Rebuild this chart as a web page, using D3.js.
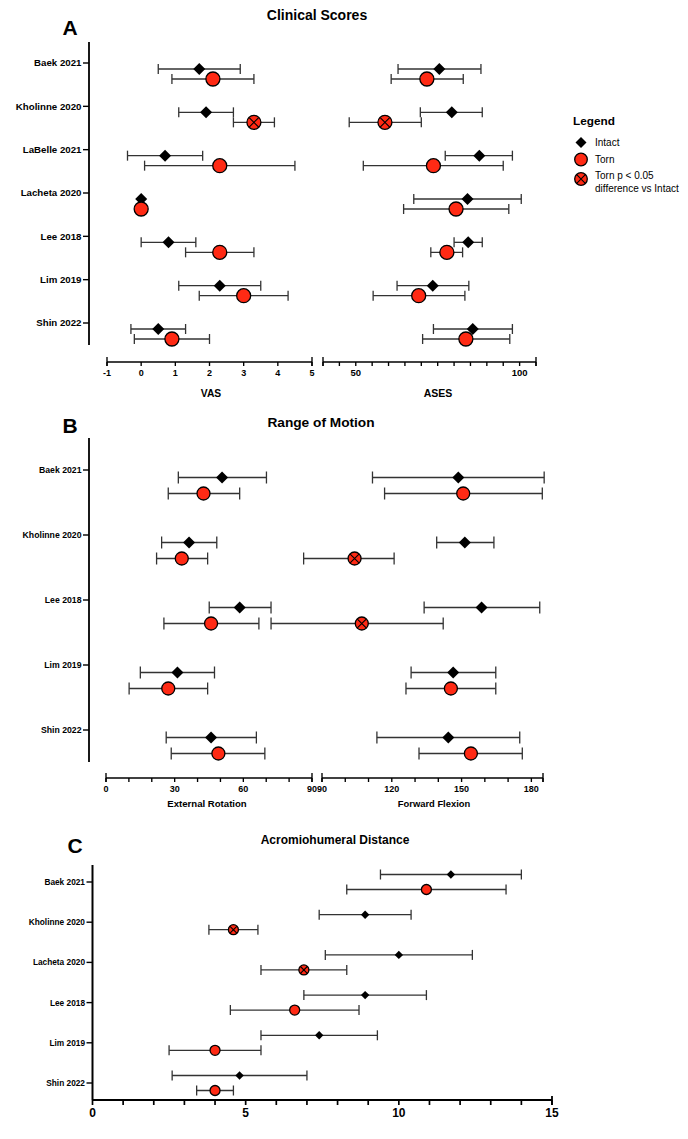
<!DOCTYPE html>
<html>
<head>
<meta charset="utf-8">
<script src="https://cdn.jsdelivr.net/npm/d3@7"></script>
<style>
  body { margin: 0; background: #fff; }
  svg text { font-family: "Liberation Sans", Arial, sans-serif; }
</style>
</head>
<body>
<svg id="chart" width="688" height="1139"></svg>
<script>
// ---------------- DATA ----------------
// Panel A: Clinical Scores
const studiesA = ["Baek 2021","Kholinne 2020","LaBelle 2021","Lacheta 2020","Lee 2018","Lim 2019","Shin 2022"];
const vasIntact   = [1.7, 1.9, 0.7, 0, 0.8, 2.3, 0.5];
const vasIntactLo = [0.5, 1.1, -0.4, null, 0.0, 1.1, -0.3];
const vasIntactHi = [2.9, 2.7, 1.8, null, 1.6, 3.5, 1.3];
const vasTorn     = [2.1, 3.3, 2.3, 0, 2.3, 3.0, 0.9];
const vasTornLo   = [0.9, 2.7, 0.1, null, 1.3, 1.7, -0.2];
const vasTornHi   = [3.3, 3.9, 4.5, null, 3.3, 4.3, 2.0];
const vasSig      = [false, true, false, false, false, false, false];

const asesIntact   = [75.5, 79.3, 87.7, 84.1, 84.3, 73.5, 85.7];
const asesIntactLo = [62.9, 69.7, 77.3, 67.7, 80.0, 62.6, 73.7];
const asesIntactHi = [88.2, 88.6, 97.8, 100.5, 88.6, 84.5, 97.8];
const asesTorn     = [71.7, 58.9, 73.7, 80.6, 77.8, 69.2, 83.6];
const asesTornLo   = [60.8, 48.0, 52.3, 64.6, 72.9, 55.3, 70.4];
const asesTornHi   = [82.8, 70.0, 95.0, 96.7, 82.6, 83.3, 97.0];
const asesSig      = [false, true, false, false, false, false, false];

const vasTicks = [-1, 0, 1, 2, 3, 4, 5];
const asesTicks = [40,45,50,55,60,65,70,75,80,85,90,95,100,105];
const asesLabels = [50, 100];

// Panel B: Range of Motion
const studiesB = ["Baek 2021","Kholinne 2020","Lee 2018","Lim 2019","Shin 2022"];
const erIntact   = [50.7, 36.3, 58.4, 31.2, 45.9];
const erIntactLo = [31.6, 24.3, 45.1, 15.0, 26.3];
const erIntactHi = [70.1, 48.4, 72.1, 47.4, 65.7];
const erTorn     = [42.6, 33.1, 45.9, 27.2, 49.1];
const erTornLo   = [27.2, 22.1, 25.3, 10.1, 28.5];
const erTornHi   = [58.4, 44.4, 66.8, 44.4, 69.4];
const erSig      = [false, false, false, false, false];

const ffIntact   = [148.6, 151.4, 158.6, 146.4, 144.3];
const ffIntactLo = [111.7, 139.3, 133.9, 128.3, 113.6];
const ffIntactHi = [185.5, 163.9, 183.6, 164.7, 175.0];
const ffTorn     = [150.7, 104.0, 107.1, 145.4, 154.0];
const ffTornLo   = [116.9, 82.1, 68.1, 126.1, 131.7];
const ffTornHi   = [184.7, 121.0, 142.1, 164.7, 176.1];
const ffSig      = [false, true, true, false, false];

const erTicks = [0,10,20,30,40,50,60,70,80,90];
const erLabels = [0, 30, 60, 90];
const ffTicks = [90,100,110,120,130,140,150,160,170,180,185];
const ffLabels = [90, 120, 150, 180];

// Panel C: Acromiohumeral Distance
const studiesC = ["Baek 2021","Kholinne 2020","Lacheta 2020","Lee 2018","Lim 2019","Shin 2022"];
const ahdIntact   = [11.7, 8.9, 10.0, 8.9, 7.4, 4.8];
const ahdIntactLo = [9.4, 7.4, 7.6, 6.9, 5.5, 2.6];
const ahdIntactHi = [14.0, 10.4, 12.4, 10.9, 9.3, 7.0];
const ahdTorn     = [10.9, 4.6, 6.9, 6.6, 4.0, 4.0];
const ahdTornLo   = [8.3, 3.8, 5.5, 4.5, 2.5, 3.4];
const ahdTornHi   = [13.5, 5.4, 8.3, 8.7, 5.5, 4.6];
const ahdSig      = [false, true, true, false, false, false];

const ahdTicks = d3.range(0, 16);
const ahdLabels = [0, 5, 10, 15];

// ---------------- DRAWING ----------------
const RED = "#ff2a14";
const svg = d3.select("#chart");

function text(x, y, str, opts = {}) {
  return svg.append("text")
    .attr("x", x).attr("y", y)
    .attr("text-anchor", opts.anchor || "middle")
    .attr("font-size", opts.size || 10)
    .attr("font-weight", opts.weight || "bold")
    .attr("fill", "#000")
    .text(str);
}

function diamondPath(s) { return `M0,${-s}L${s},0L0,${s}L${-s},0Z`; }

function drawMarker(g, type, x, y, r) {
  if (type === "intact") {
    g.append("path").attr("d", diamondPath(r)).attr("transform", `translate(${x},${y})`)
      .attr("fill", "#000");
  } else {
    g.append("circle").attr("cx", x).attr("cy", y).attr("r", r)
      .attr("fill", RED).attr("stroke", "#000").attr("stroke-width", 1.3);
    if (type === "sig") {
      const k = r * 0.68;
      g.append("path")
        .attr("d", `M${x-k},${y-k}L${x+k},${y+k}M${x-k},${y+k}L${x+k},${y-k}`)
        .attr("stroke", "#000").attr("stroke-width", 1.1);
    }
  }
}

function drawSeries(opts) {
  const {x, y, studies, mean, lo, hi, sig, type, off, cap, r} = opts;
  const g = svg.append("g");
  studies.forEach((s, i) => {
    const yy = y(s) + off;
    if (lo[i] != null && hi[i] != null) {
      const x1 = x(lo[i]), x2 = x(hi[i]);
      g.append("line").attr("x1", x1).attr("x2", x2).attr("y1", yy).attr("y2", yy)
        .attr("stroke", "#333").attr("stroke-width", 1.3);
      [x1, x2].forEach(xc => g.append("line").attr("x1", xc).attr("x2", xc)
        .attr("y1", yy - cap).attr("y2", yy + cap)
        .attr("stroke", "#333").attr("stroke-width", 1.3));
    }
  });
  studies.forEach((s, i) => {
    const yy = y(s) + off;
    const t = type === "intact" ? "intact" : (sig[i] ? "sig" : "torn");
    drawMarker(g, t, x(mean[i]), yy, type === "intact" ? r.d : r.c);
  });
}

function xAxis(scale, yPos, ticks, labels, opts = {}) {
  const g = svg.append("g").attr("transform", `translate(0,${yPos})`);
  const sw = opts.sw || 1.6;
  const [a, b] = scale.range();
  g.append("line").attr("x1", a).attr("x2", b).attr("y1", 0).attr("y2", 0)
    .attr("stroke", "#000").attr("stroke-width", sw);
  ticks.forEach(t => {
    g.append("line").attr("x1", scale(t)).attr("x2", scale(t))
      .attr("y1", 0).attr("y2", opts.tick || 4)
      .attr("stroke", "#000").attr("stroke-width", sw * 0.85);
  });
  if (opts.caps) {
    [a, b].forEach(xc => g.append("line").attr("x1", xc).attr("x2", xc)
      .attr("y1", -5).attr("y2", 4).attr("stroke", "#000").attr("stroke-width", sw * 0.85));
  }
  labels.forEach(l => {
    g.append("text").attr("x", scale(l))
      .attr("y", opts.labelY || 13)
      .attr("text-anchor", "middle").attr("font-size", opts.fs || 8.5)
      .attr("font-weight", "bold").text(l);
  });
}

function yAxis(scale, xPos, top, bottom, opts = {}) {
  const g = svg.append("g");
  const sw = opts.sw || 1.8;
  g.append("line").attr("x1", xPos).attr("x2", xPos).attr("y1", top).attr("y2", bottom)
    .attr("stroke", "#000").attr("stroke-width", sw);
  scale.domain().forEach(s => {
    g.append("line").attr("x1", xPos - 6).attr("x2", xPos).attr("y1", scale(s)).attr("y2", scale(s))
      .attr("stroke", "#000").attr("stroke-width", 1.4);
    g.append("text").attr("x", xPos - 7.5).attr("y", scale(s)).attr("dy", "0.35em")
      .attr("text-anchor", "end").attr("font-size", opts.fs || 8.5)
      .attr("font-weight", "bold").text(s);
  });
}

// ===== Panel A =====
text(70, 35, "A", {size: 21});
text(317, 20, "Clinical Scores", {size: 14});

const yA = d3.scalePoint().domain(studiesA).range([63, 323]);
const xVAS = d3.scaleLinear().domain([-1, 5]).range([107, 312]);
const xASES = d3.scaleLinear().domain([40, 105]).range([323, 536]);

yAxis(yA, 89, 42, 345, {fs: 9.7});
xAxis(xVAS, 362, vasTicks, vasTicks, {caps: true, fs: 9, labelY: 13.5});
xAxis(xASES, 362, asesTicks, asesLabels, {caps: true, fs: 9.5, labelY: 13.5});
text(211, 397, "VAS", {size: 10.3});
text(438, 397, "ASES", {size: 10.5});

const rA = {d: 6, c: 7};
drawSeries({x: xVAS, y: yA, studies: studiesA, mean: vasIntact, lo: vasIntactLo, hi: vasIntactHi, sig: vasSig, type: "intact", off: 6, cap: 5, r: rA});
drawSeries({x: xVAS, y: yA, studies: studiesA, mean: vasTorn, lo: vasTornLo, hi: vasTornHi, sig: vasSig, type: "torn", off: 16, cap: 5, r: rA});
drawSeries({x: xASES, y: yA, studies: studiesA, mean: asesIntact, lo: asesIntactLo, hi: asesIntactHi, sig: asesSig, type: "intact", off: 6, cap: 5, r: rA});
drawSeries({x: xASES, y: yA, studies: studiesA, mean: asesTorn, lo: asesTornLo, hi: asesTornHi, sig: asesSig, type: "torn", off: 16, cap: 5, r: rA});

// Legend
const lg = svg.append("g");
text(573, 125, "Legend", {size: 11.8, anchor: "start"});
drawMarker(lg, "intact", 581, 142.5, 5.5);
text(595, 146, "Intact", {size: 10, anchor: "start", weight: "normal"});
drawMarker(lg, "torn", 581, 159.5, 6.3);
text(595, 163, "Torn", {size: 10, anchor: "start", weight: "normal"});
drawMarker(lg, "sig", 581, 179, 6.3);
text(595, 179, "Torn p < 0.05", {size: 10, anchor: "start", weight: "normal"});
text(595, 192, "difference vs Intact", {size: 10, anchor: "start", weight: "normal"});

// ===== Panel B =====
text(70, 433, "B", {size: 21});
text(321, 427, "Range of Motion", {size: 13.7});

const yB = d3.scalePoint().domain(studiesB).range([470, 730]);
const xER = d3.scaleLinear().domain([0, 90]).range([106, 312]);
const xFF = d3.scaleLinear().domain([90, 185]).range([322, 543]);

yAxis(yB, 89, 438, 762, {fs: 8.7});
xAxis(xER, 778, erTicks, erLabels, {caps: true, fs: 9, labelY: 14});
xAxis(xFF, 778, ffTicks, ffLabels, {caps: true, fs: 9, labelY: 14});
text(207, 807, "External Rotation", {size: 9.6});
text(434, 807, "Forward Flexion", {size: 9.4});

const rB = {d: 6, c: 6.5};
drawSeries({x: xER, y: yB, studies: studiesB, mean: erIntact, lo: erIntactLo, hi: erIntactHi, sig: erSig, type: "intact", off: 7.5, cap: 6, r: rB});
drawSeries({x: xER, y: yB, studies: studiesB, mean: erTorn, lo: erTornLo, hi: erTornHi, sig: erSig, type: "torn", off: 23.5, cap: 6, r: rB});
drawSeries({x: xFF, y: yB, studies: studiesB, mean: ffIntact, lo: ffIntactLo, hi: ffIntactHi, sig: ffSig, type: "intact", off: 7.5, cap: 6, r: rB});
drawSeries({x: xFF, y: yB, studies: studiesB, mean: ffTorn, lo: ffTornLo, hi: ffTornHi, sig: ffSig, type: "torn", off: 23.5, cap: 6, r: rB});

// ===== Panel C =====
text(75, 853, "C", {size: 21});
text(335, 844, "Acromiohumeral Distance", {size: 12});

const yC = d3.scalePoint().domain(studiesC).range([882, 1083]);
const xAHD = d3.scaleLinear().domain([0, 15]).range([92.5, 552]);

yAxis(yC, 92.5, 865, 1100, {fs: 8.3, sw: 2});
xAxis(xAHD, 1100, ahdTicks, ahdLabels, {fs: 12, labelY: 17, tick: 5, sw: 2});
svg.append("line").attr("x1", xAHD(15)).attr("x2", xAHD(15)).attr("y1", 1096).attr("y2", 1105)
  .attr("stroke", "#000").attr("stroke-width", 1.8);

const rC = {d: 4.2, c: 5};
drawSeries({x: xAHD, y: yC, studies: studiesC, mean: ahdIntact, lo: ahdIntactLo, hi: ahdIntactHi, sig: ahdSig, type: "intact", off: -7.5, cap: 5, r: rC});
drawSeries({x: xAHD, y: yC, studies: studiesC, mean: ahdTorn, lo: ahdTornLo, hi: ahdTornHi, sig: ahdSig, type: "torn", off: 7.5, cap: 5, r: rC});
</script>
</body>
</html>
